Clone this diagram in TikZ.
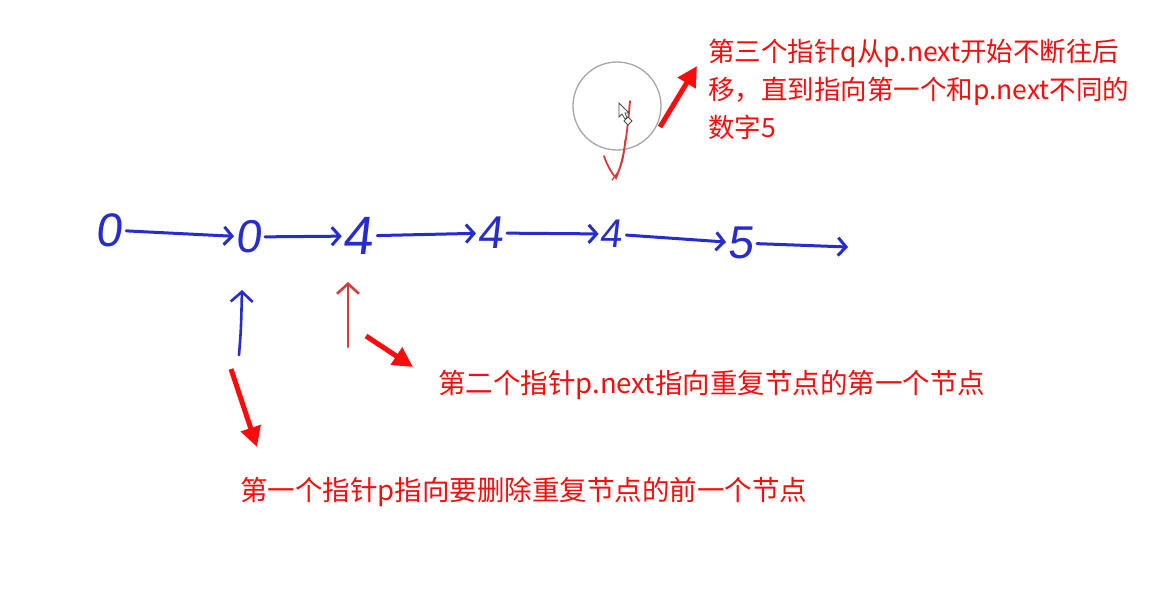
\documentclass[tikz,border=0pt]{standalone}
\usepackage{fontspec}
\newfontfamily\cjk{Noto Sans CJK SC}
\newfontfamily\hand[FakeSlant=0.12]{Liberation Sans}
\usetikzlibrary{arrows.meta}
\definecolor{penblue}{RGB}{38,44,205}
\definecolor{anred}{RGB}{250,12,12}
\definecolor{penred}{RGB}{215,60,60}
\tikzset{
  digit/.style={text=penblue,inner sep=1pt,font=\hand\fontsize{#1}{#1}\selectfont},
  link/.style={draw=penblue,line width=3pt,line cap=round,shorten <=3pt,-{Straight Barb[length=8pt,width=18pt,line width=3pt]}},
  note/.style={text=anred,inner sep=0pt,align=left,font=\cjk\fontsize{#1}{38}\selectfont},
  callout/.style={draw=anred,line width=5pt,-{Triangle[length=20pt,width=20pt]}},
  uparrow/.style={line width=2.6pt,line cap=round,-{Straight Barb[length=10pt,width=22pt,line width=2.6pt]}}
}
\begin{document}
\begin{tikzpicture}[x=1pt,y=-1pt]
\useasboundingbox[fill=white] (0,0) rectangle (1154,598);
% linked list
\node[digit=47] (n0) at (109,230) {0};
\node[digit=46] (n1) at (248,237) {0};
\node[digit=54] (n2) at (358,236) {4};
\node[digit=46] (n3) at (490,233) {4};
\node[digit=40] (n4) at (611,234) {4};
\node[digit=46] (n5) at (740,243) {5};
\coordinate (tail) at (848,247);
\draw[link] (n0) -- (n1);
\draw[link] (n1) -- (n2);
\draw[link] (n2) -- (n3);
\draw[link] (n3) -- (n4);
\draw[link] (n4) -- (n5);
\draw[link] (n5) -- (tail);
% pointers
\coordinate (pbot) at (239,355);
\coordinate (ptop) at (242,290);
\draw[uparrow,draw=penblue] (pbot) .. controls (241,330) .. (ptop);
\coordinate (nbot) at (348,347);
\coordinate (ntop) at (348,282);
\draw[uparrow,draw=penred,line width=2pt] (nbot) -- (ntop);
% circle with cursor
\node[circle,draw=gray!70,line width=1.3pt,minimum size=88pt,inner sep=0pt] (lens) at (617,106) {};
\draw[penred,line width=1.8pt,line cap=round] (630,101) .. controls (627,135) and (624,160) .. (616,178) .. controls (611,172) and (607,165) .. (604,156);
\draw[penred,line width=1.3pt,line cap=round] (625,140) .. controls (624,160) and (621,170) .. (612,180);
\draw[black!70,line width=0.8pt,fill=white] (619,103) -- (619,117) -- (622,114) -- (625,119) -- (627,118) -- (625,113) -- (629,113) -- cycle;
\draw[black!70,line width=0.8pt,fill=white] (628,117) -- (632,121) -- (628,125) -- (624,121) -- cycle;
% notes
\node[note=26.5,anchor=north west] (t1) at (708,39) {第三个指针q从p.next开始不断往后\\移，直到指向第一个和p.next不同的\\数字5};
\node[note=27.5,anchor=base west] (t2) at (438,393) {第二个指针p.next指向重复节点的第一个节点};
\node[note=27.5,anchor=base west] (t3) at (240,500) {第一个指针p指向要删除重复节点的前一个节点};
\coordinate (a1s) at (660,127);
\coordinate (a1e) at (697,66);
\draw[callout] (a1s) -- (a1e);
\coordinate (a2s) at (366,336);
\coordinate (a2e) at (413,367);
\draw[callout] (a2s) -- (a2e);
\coordinate (a3s) at (231,369);
\coordinate (a3e) at (257,447);
\draw[callout] (a3s) -- (a3e);
\end{tikzpicture}
\end{document}
